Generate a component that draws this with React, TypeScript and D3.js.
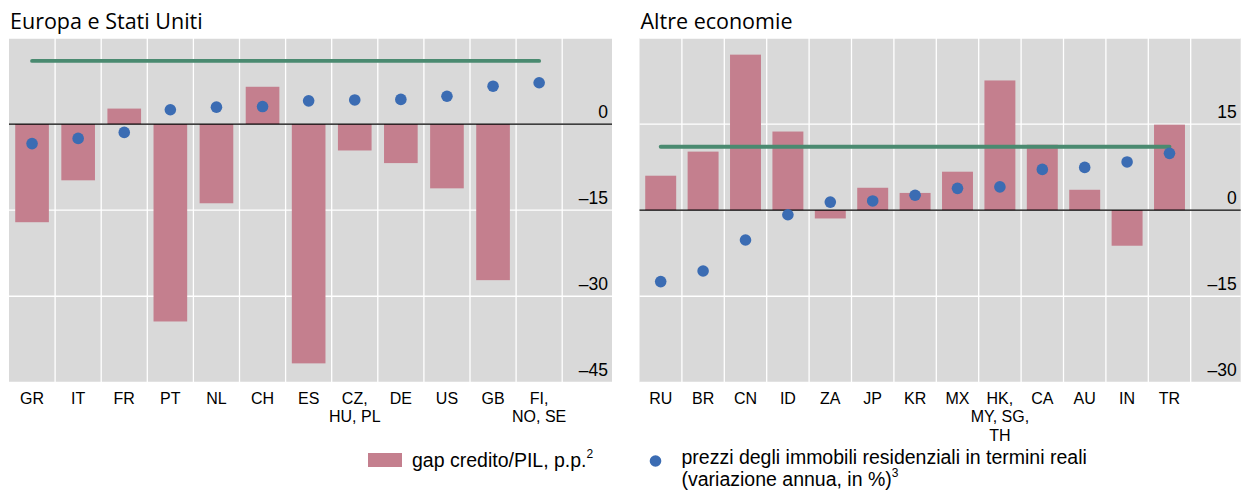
import React from "react";
import * as d3 from "d3";

// ---------- data ----------
const euCategories = ["GR", "IT", "FR", "PT", "NL", "CH", "ES", "CZ, HU, PL", "DE", "US", "GB", "FI, NO, SE"];
const euLabels = [["GR"], ["IT"], ["FR"], ["PT"], ["NL"], ["CH"], ["ES"], ["CZ,", "HU, PL"], ["DE"], ["US"], ["GB"], ["FI,", "NO, SE"]];
const euCreditGap = [-17.1, -9.8, 2.7, -34.4, -13.8, 6.5, -41.7, -4.6, -6.8, -11.2, -27.2, null];
const euHousePrices = [-3.4, -2.5, -1.45, 2.5, 2.95, 3.05, 4.05, 4.2, 4.3, 4.85, 6.6, 7.2];
const euThreshold = 11.0;
const euTicks = [0, -15, -30, -45];
const euDomain = [-45, 15];

const otherCategories = ["RU", "BR", "CN", "ID", "ZA", "JP", "KR", "MX", "HK, MY, SG, TH", "CA", "AU", "IN", "TR"];
const otherLabels = [["RU"], ["BR"], ["CN"], ["ID"], ["ZA"], ["JP"], ["KR"], ["MX"], ["HK,", "MY, SG,", "TH"], ["CA"], ["AU"], ["IN"], ["TR"]];
const otherCreditGap = [6.0, 10.2, 27.1, 13.7, -1.45, 3.9, 3.0, 6.7, 22.6, 11.4, 3.55, -6.2, 14.9];
const otherHousePrices = [-12.45, -10.6, -5.2, -0.8, 1.4, 1.6, 2.6, 3.8, 4.05, 7.1, 7.45, 8.4, 9.9];
const otherThreshold = 11.05;
const otherTicks = [15, 0, -15, -30];
const otherDomain = [-30, 30];

// ---------- style ----------
const BG = "#d9d9d9";
const BAR = "#c47f8e";
const DOT = "#3b6cb3";
const GREEN = "#4a8a70";
const SANS = "'Liberation Sans', Arial, sans-serif";
const TITLE_FONT = "'Open Sans', 'Noto Sans', sans-serif";

const TOP = 38;
const BOTTOM = 382.3;

type PanelProps = {
  title: string;
  categories: string[];
  labels: string[][];
  credit: (number | null)[];
  prices: number[];
  threshold: number;
  ticks: number[];
  domain: number[];
  left: number;
  colW: number;
  right: number;
};

function fmt(v: number) {
  return v < 0 ? "\u2013" + Math.abs(v) : String(v);
}

function Panel(p: PanelProps) {
  const n = p.categories.length;
  const x = d3.scaleBand<string>().domain(p.categories).range([p.left, p.left + n * p.colW]).paddingInner(0).paddingOuter(0);
  const y = d3.scaleLinear().domain(p.domain).range([BOTTOM, TOP]);
  const bw = x.bandwidth();
  const barW = bw * 0.73;
  const vLines = d3.range(1, n + 1).map((i) => p.left + i * bw);
  const gridVals = d3.range(p.domain[0], p.domain[1] + 0.001, 15);
  const line = d3.line<number>().x((d) => d).y(() => y(p.threshold));
  const first = (x(p.categories[0]) as number) + bw / 2;
  const last = (x(p.categories[n - 1]) as number) + bw / 2;

  return (
    <g>
      <text x={p.left + 1} y={29} fontFamily={TITLE_FONT} fontSize={21.5} fill="#000">
        {p.title}
      </text>
      <rect x={p.left} y={TOP} width={p.right - p.left} height={BOTTOM - TOP} fill={BG} />
      {gridVals.map((v) => (
        <line key={"h" + v} x1={p.left} x2={p.right} y1={y(v)} y2={y(v)} stroke="#fff" strokeWidth={1.3} />
      ))}
      {vLines.map((vx, i) => (
        <line key={"v" + i} x1={vx} x2={vx} y1={TOP} y2={BOTTOM} stroke="#fff" strokeWidth={1.3} />
      ))}
      {p.categories.map((c, i) => {
        const v = p.credit[i];
        if (v === null || v === undefined) return null;
        const x0 = (x(c) as number) + (bw - barW) / 2;
        return <rect key={"b" + c} x={x0} width={barW} y={y(Math.max(0, v))} height={Math.abs(y(v) - y(0))} fill={BAR} />;
      })}
      <line x1={p.left} x2={p.right} y1={y(0)} y2={y(0)} stroke="#000" strokeWidth={1.4} />
      <path d={line([first, last]) as string} stroke={GREEN} strokeWidth={3.8} fill="none" strokeLinecap="round" />
      {p.categories.map((c, i) => (
        <circle key={"d" + c} cx={(x(c) as number) + bw / 2} cy={y(p.prices[i])} r={5.8} fill={DOT} />
      ))}
      {p.ticks.map((t) => (
        <text key={"t" + t} x={p.right - 4} y={y(t) - 6} textAnchor="end" fontFamily={SANS} fontSize={17.5} fill="#000">
          {fmt(t)}
        </text>
      ))}
      {p.categories.map((c, i) => (
        <text key={"l" + c} x={(x(c) as number) + bw / 2} y={404} textAnchor="middle" fontFamily={SANS} fontSize={16} fill="#000">
          {p.labels[i].map((ln, j) => (
            <tspan key={j} x={(x(c) as number) + bw / 2} dy={j === 0 ? 0 : 18.3}>
              {ln}
            </tspan>
          ))}
        </text>
      ))}
    </g>
  );
}

export default function App() {
  return (
    <svg width={1249} height={495} style={{ position: "absolute", left: 0, top: 0, background: "#fff" }}>
      <Panel
        title="Europa e Stati Uniti"
        categories={euCategories}
        labels={euLabels}
        credit={euCreditGap}
        prices={euHousePrices}
        threshold={euThreshold}
        ticks={euTicks}
        domain={euDomain}
        left={9}
        colW={46.1}
        right={612}
      />
      <Panel
        title="Altre economie"
        categories={otherCategories}
        labels={otherLabels}
        credit={otherCreditGap}
        prices={otherHousePrices}
        threshold={otherThreshold}
        ticks={otherTicks}
        domain={otherDomain}
        left={639.5}
        colW={42.4}
        right={1240.7}
      />
      {/* legend */}
      <rect x={368} y={453} width={34} height={14} fill={BAR} />
      <text x={412} y={467} fontFamily={SANS} fontSize={19.5} fill="#000">
        gap credito/PIL, p.p.
        <tspan fontSize={12} dy={-9}>2</tspan>
      </text>
      <circle cx={655.5} cy={461} r={5.8} fill={DOT} />
      <text x={681.5} y={464} fontFamily={SANS} fontSize={19.5} fill="#000">
        prezzi degli immobili residenziali in termini reali
      </text>
      <text x={681.5} y={486} fontFamily={SANS} fontSize={19.5} fill="#000">
        (variazione annua, in %)
        <tspan fontSize={12} dy={-9}>3</tspan>
      </text>
    </svg>
  );
}
